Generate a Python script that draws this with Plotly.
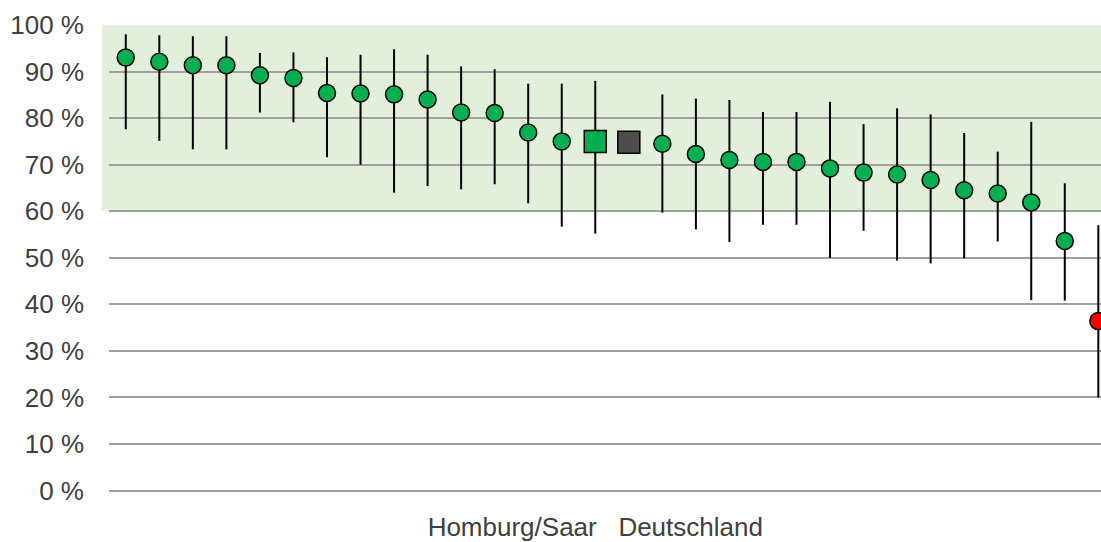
import plotly.graph_objects as go

# ---- data ----
labels = [""] * 14 + ["Homburg/Saar\u00a0\u00a0\u00a0Deutschland"] + [""] * 15
kind = ["site"] * 14 + ["homburg", "de"] + ["site"] * 13 + ["low"]
value = [93.0, 92.1, 91.35, 91.35, 89.2, 88.6, 85.4, 85.3, 85.1, 84.0,
         81.2, 81.1, 76.9, 75.0, 75.0, 74.8, 74.5, 72.3, 71.0, 70.6,
         70.6, 69.2, 68.3, 67.9, 66.7, 64.5, 63.8, 61.9, 53.6, 36.4]
upper = [98.0, 97.8, 97.6, 97.6, 94.0, 94.1, 93.1, 93.6, 94.8, 93.6,
         91.1, 90.5, 87.4, 87.4, 88.0, None, 85.1, 84.2, 83.9, 81.3,
         81.3, 83.5, 78.7, 82.1, 80.8, 76.8, 72.8, 79.2, 66.0, 57.0]
lower = [77.6, 75.1, 73.3, 73.3, 81.2, 79.1, 71.6, 70.0, 64.0, 65.4,
         64.7, 65.8, 61.7, 56.7, 55.2, None, 59.7, 56.1, 53.4, 57.1,
         57.1, 50.0, 55.8, 49.4, 48.8, 49.9, 53.5, 40.9, 40.8, 20.0]
target_low, target_high = 60, 100
yticks = list(range(0, 101, 10))

styles = {
    "site": dict(symbol="circle", size=17, color="#00B050"),
    "homburg": dict(symbol="square", size=22, color="#00B050"),
    "de": dict(symbol="square", size=22, color="#4D4D4D"),
    "low": dict(symbol="circle", size=17, color="#FF0000"),
}

fig = go.Figure()
for k, st in styles.items():
    idx = [i for i, kk in enumerate(kind) if kk == k]
    ys = [value[i] for i in idx]
    plus = [(upper[i] - value[i]) if upper[i] is not None else 0 for i in idx]
    minus = [(value[i] - lower[i]) if lower[i] is not None else 0 for i in idx]
    fig.add_trace(go.Scatter(
        x=idx, y=ys, mode="markers",
        marker=dict(symbol=st["symbol"], size=st["size"], color=st["color"],
                    line=dict(color="#000000", width=1.5)),
        error_y=dict(type="data", symmetric=False, array=plus, arrayminus=minus,
                     color="#000000", thickness=2, width=0),
        showlegend=False, hoverinfo="skip",
    ))

fig.add_shape(type="rect", xref="paper", yref="y", x0=-0.0073, x1=1.0,
              y0=target_low, y1=target_high, fillcolor="#E2EFDA",
              line=dict(width=0), layer="below")

tickvals = [i for i, l in enumerate(labels) if l]
ticktext = [l for l in labels if l]

fig.update_layout(
    width=1101, height=542,
    margin=dict(l=109, r=0, t=25, b=50),
    plot_bgcolor="rgba(0,0,0,0)", paper_bgcolor="#FFFFFF",
    font=dict(family="Liberation Sans, Arial, sans-serif", size=26, color="#404040"),
    xaxis=dict(range=[-0.5, 29.08], tickvals=tickvals, ticktext=ticktext,
               showgrid=False, zeroline=False, showline=False, automargin=False,
               ticks="", ticklabelstandoff=17, tickangle=0),
    yaxis=dict(range=[-0.3, 100], tickvals=yticks,
               ticktext=[f"{v} %" for v in yticks], automargin=False,
               showgrid=True, gridcolor="#A0A0A0", gridwidth=1.5,
               zeroline=False, showline=False, ticks="",
               ticklabelstandoff=24),
)

fig.write_html("out.html", config={"displayModeBar": False},
               post_script="document.body.style.margin='0';document.body.style.overflow='hidden';")
